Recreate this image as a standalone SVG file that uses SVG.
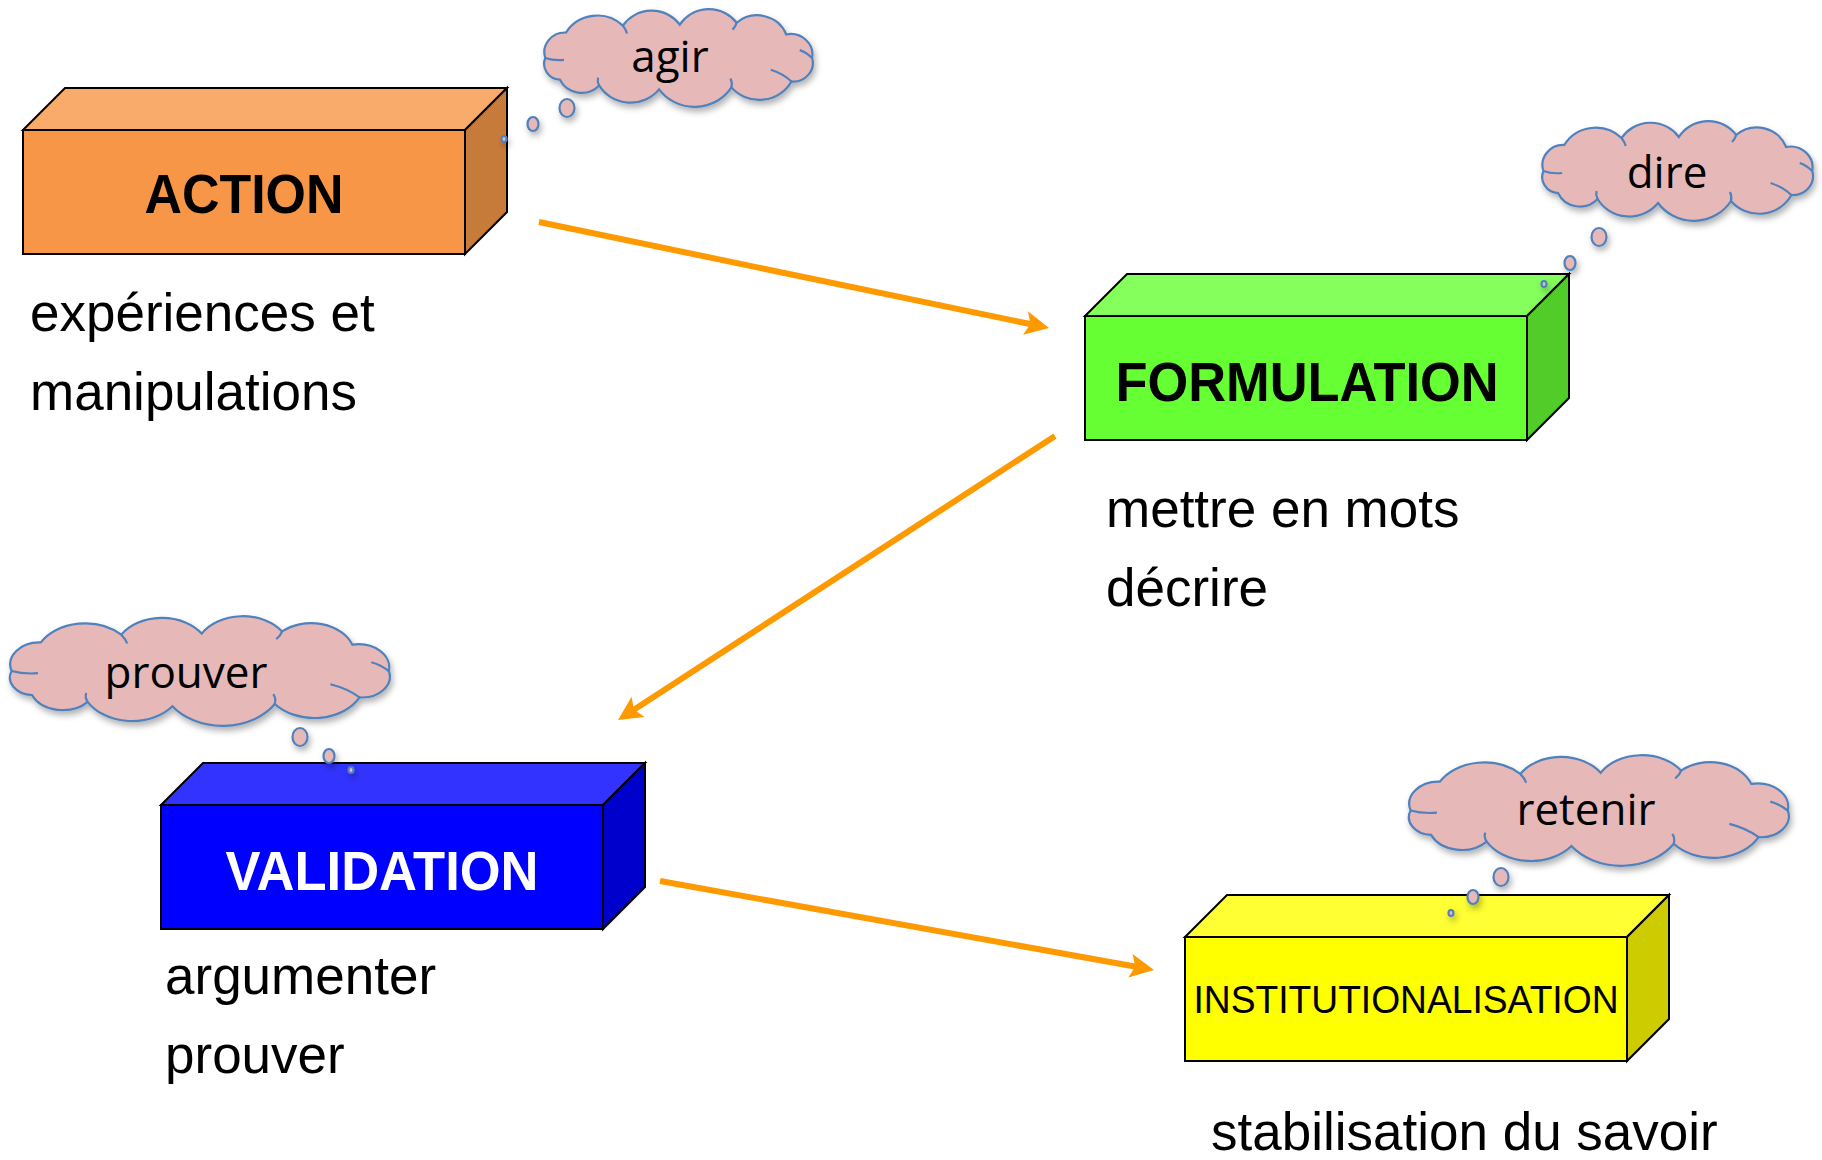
<svg xmlns="http://www.w3.org/2000/svg" width="1822" height="1160" viewBox="0 0 1822 1160">
<style>
.face{stroke:#000;stroke-width:2;stroke-linejoin:miter}
.lbl{font-family:"Liberation Sans",Arial,sans-serif;font-weight:bold;font-size:56px;text-anchor:middle}
.lbl2{font-family:"Liberation Sans",Arial,sans-serif;font-size:39px;text-anchor:middle}
.desc{font-family:"Liberation Sans",Arial,sans-serif;font-size:53px;fill:#000}
.cl{fill:#E6B9B8;stroke:#4F81BD;stroke-width:2.2}
.cr{fill:none;stroke:#4F81BD;stroke-width:2.2}
.think{font-family:"Open Sans","Noto Sans",sans-serif;font-size:44px;text-anchor:middle;fill:#000}
.conn{stroke:#FF9900;stroke-width:6;fill:none}
</style>
<defs>
<filter id="sh" x="-10%" y="-10%" width="120%" height="130%">
<feDropShadow dx="2" dy="4" stdDeviation="3" flood-color="#000" flood-opacity="0.3"/>
</filter>
<marker id="ah" markerUnits="userSpaceOnUse" markerWidth="26" markerHeight="26" viewBox="0 0 26 26" refX="6" refY="13" orient="auto">
<path d="M0,1 L24,13 L0,25 L5,13 Z" fill="#FF9900"/>
</marker>
<path id="cloudShape" d="M10,50 A20,20 0 0 1 30,24 A35,35 0 0 1 85,17 A33,33 0 0 1 140,16 A33,33 0 0 1 195,14 A30,30 0 0 1 243,26 A21,21 0 0 1 268,50 A19,19 0 0 1 248,74 A35,35 0 0 1 190,80 A42,42 0 0 1 120,82 A35,35 0 0 1 62,78 A23,23 0 0 1 24,72 A16,16 0 0 1 10,50 Z" vector-effect="non-scaling-stroke"/>
<g id="creases">
<path d="M10,50 Q18,53 28,52" vector-effect="non-scaling-stroke"/>
<path d="M85,17 Q88,21 89,25" vector-effect="non-scaling-stroke"/>
<path d="M195,14 Q194,18 191,21" vector-effect="non-scaling-stroke"/>
<path d="M268,50 Q262,44 256,42" vector-effect="non-scaling-stroke"/>
<path d="M248,74 Q240,66 228,62" vector-effect="non-scaling-stroke"/>
<path d="M190,80 Q191,75 189,71" vector-effect="non-scaling-stroke"/>
<path d="M62,78 Q60,74 61,70" vector-effect="non-scaling-stroke"/>
</g>
</defs>
<rect width="1822" height="1160" fill="#fff"/>

<g id="connectors">
<line class="conn" x1="539" y1="222" x2="1031.4" y2="324.3" marker-end="url(#ah)"/>
<line class="conn" x1="1055" y1="436" x2="633.1" y2="710.2" marker-end="url(#ah)"/>
<line class="conn" x1="660" y1="881" x2="1136.3" y2="966.8" marker-end="url(#ah)"/>
</g>

<g id="action" transform="translate(23,130)">
<rect class="face" x="0" y="0" width="442" height="124" fill="#F79646"/>
<polygon class="face" points="0,0 42,-42 484,-42 442,0" fill="#F9AB6C"/>
<polygon class="face" points="442,0 484,-42 484,82 442,124" fill="#C77B3A"/>
<text class="lbl" x="221" y="83" textLength="199" lengthAdjust="spacingAndGlyphs">ACTION</text>
</g>

<g id="formulation" transform="translate(1085,316)">
<rect class="face" x="0" y="0" width="442" height="124" fill="#66FF33"/>
<polygon class="face" points="0,0 42,-42 484,-42 442,0" fill="#85FF5C"/>
<polygon class="face" points="442,0 484,-42 484,82 442,124" fill="#52CC29"/>
<text class="lbl" x="222" y="85" textLength="383" lengthAdjust="spacingAndGlyphs">FORMULATION</text>
</g>

<g id="validation" transform="translate(161,805)">
<rect class="face" x="0" y="0" width="442" height="124" fill="#0000FF"/>
<polygon class="face" points="0,0 42,-42 484,-42 442,0" fill="#3333FF"/>
<polygon class="face" points="442,0 484,-42 484,82 442,124" fill="#0000CC"/>
<text class="lbl" x="221" y="85" fill="#fff" textLength="313" lengthAdjust="spacingAndGlyphs">VALIDATION</text>
</g>

<g id="institutionalisation" transform="translate(1185,937)">
<rect class="face" x="0" y="0" width="442" height="124" fill="#FFFF00"/>
<polygon class="face" points="0,0 42,-42 484,-42 442,0" fill="#FFFF33"/>
<polygon class="face" points="442,0 484,-42 484,82 442,124" fill="#CCCC00"/>
<text class="lbl2" x="221" y="76" textLength="425" lengthAdjust="spacingAndGlyphs">INSTITUTIONALISATION</text>
</g>

<g id="cloud-agir">
<g filter="url(#sh)">
<ellipse class="cl" cx="504" cy="139" rx="2.5" ry="3"/>
<ellipse class="cl" cx="533" cy="124" rx="5.5" ry="7"/>
<ellipse class="cl" cx="567" cy="108" rx="7.5" ry="9"/>
<g transform="translate(535,9) scale(1.034,0.98)">
<use href="#cloudShape" class="cl"/>
<use href="#creases" class="cr"/>
</g>
</g>
<text class="think" x="670" y="72">agir</text>
</g>

<g id="cloud-dire">
<g filter="url(#sh)">
<ellipse class="cl" cx="1544" cy="284" rx="2.5" ry="3"/>
<ellipse class="cl" cx="1570" cy="263" rx="5.5" ry="7"/>
<ellipse class="cl" cx="1599" cy="237" rx="7.5" ry="9"/>
<g transform="translate(1533,121) scale(1.042,1.0)">
<use href="#cloudShape" class="cl"/>
<use href="#creases" class="cr"/>
</g>
</g>
<text class="think" x="1667" y="188">dire</text>
</g>

<g id="cloud-prouver">
<g filter="url(#sh)">
<ellipse class="cl" cx="351" cy="770" rx="2.5" ry="3"/>
<ellipse class="cl" cx="329" cy="756" rx="5.5" ry="7"/>
<ellipse class="cl" cx="300" cy="737" rx="7.5" ry="9"/>
<g transform="translate(-3,616) scale(1.462,1.1)">
<use href="#cloudShape" class="cl"/>
<use href="#creases" class="cr"/>
</g>
</g>
<text class="think" x="186" y="688">prouver</text>
</g>

<g id="cloud-retenir">
<g filter="url(#sh)">
<ellipse class="cl" cx="1451" cy="913" rx="2.5" ry="3"/>
<ellipse class="cl" cx="1473" cy="897" rx="5.5" ry="7"/>
<ellipse class="cl" cx="1501" cy="877" rx="7.5" ry="9"/>
<g transform="translate(1396,755) scale(1.462,1.11)">
<use href="#cloudShape" class="cl"/>
<use href="#creases" class="cr"/>
</g>
</g>
<text class="think" x="1586" y="825">retenir</text>
</g>

<g id="descriptions">
<text class="desc" x="30" y="331">expériences et</text>
<text class="desc" x="30" y="410">manipulations</text>
<text class="desc" x="1106" y="527">mettre en mots</text>
<text class="desc" x="1106" y="606">décrire</text>
<text class="desc" x="165" y="994">argumenter</text>
<text class="desc" x="165" y="1073">prouver</text>
<text class="desc" x="1211" y="1150">stabilisation du savoir</text>
</g>
</svg>
